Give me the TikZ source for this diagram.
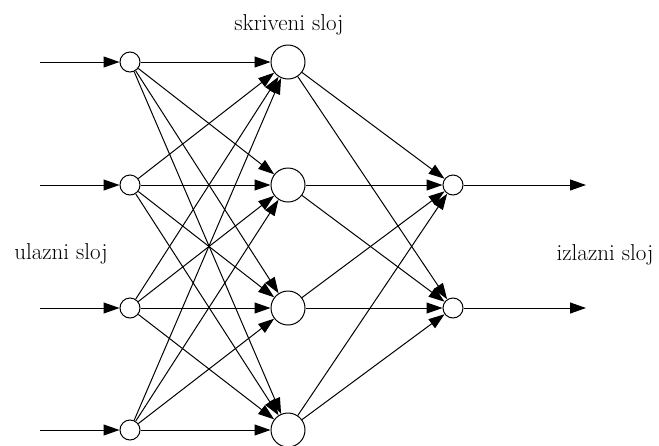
\documentclass[tikz,border=0pt]{standalone}
\usetikzlibrary{arrows.meta}
\begin{document}
\begin{tikzpicture}[x=1pt,y=-1pt,
  neuron/.style={circle,draw,line width=1pt,inner sep=0pt,fill=white},
  small/.style={neuron,minimum size=20pt},
  big/.style={neuron,minimum size=34pt},
  conn/.style={line width=1pt,-{Triangle[length=16pt,width=11pt]}},
  lbl/.style={font=\fontsize{23}{25}\selectfont,inner sep=0pt}]
\useasboundingbox (0,0) rectangle (659,445);
\foreach \i/\y in {1/62,2/185,3/308,4/430}{
  \node[small] (in\i) at (130,\y) {};
  \node[big] (h\i) at (288,\y) {};
  \coordinate (s\i) at (40,\y);
}
\node[small] (o1) at (453,185) {};
\node[small] (o2) at (453,308) {};
\coordinate (e1) at (586,185);
\coordinate (e2) at (586,308);
\foreach \i in {1,...,4}{
  \draw[conn] (s\i) -- (in\i);
  \foreach \j in {1,...,4}{ \draw[conn] (in\i) -- (h\j); }
  \foreach \k in {1,2}{ \draw[conn] (h\i) -- (o\k); }
}
\draw[conn] (o1) -- (e1);
\draw[conn] (o2) -- (e2);
\node[lbl] (t1) at (289,25) {skriveni sloj};
\node[lbl] (t2) at (61,254) {ulazni sloj};
\node[lbl] (t3) at (605,255) {izlazni sloj};
\end{tikzpicture}
\end{document}
